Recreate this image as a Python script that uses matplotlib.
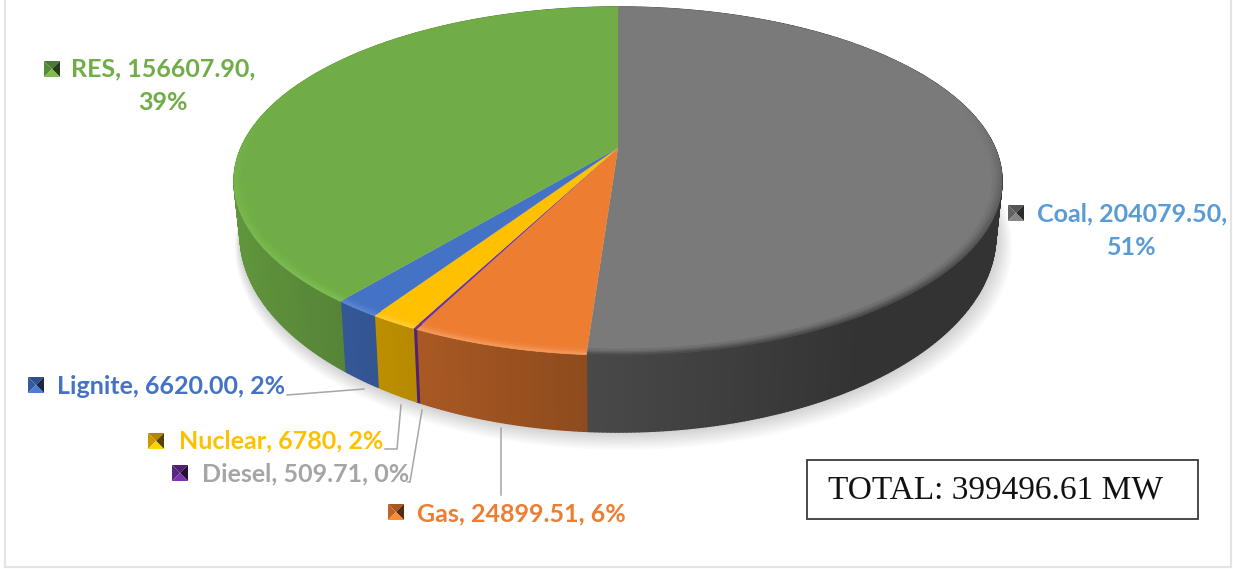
import numpy as np
import matplotlib
matplotlib.use("Agg")
import matplotlib.pyplot as plt
from matplotlib.collections import PolyCollection
from matplotlib.colors import to_rgb
from matplotlib.patches import Rectangle
from matplotlib.transforms import Transform

names = ["Coal", "Gas", "Diesel", "Nuclear", "Lignite", "RES"]
values = [204079.50, 24899.51, 509.71, 6780, 6620.00, 156607.90]
top_colors = ["#7a7a7a", "#ed7d31", "#7030a0", "#ffc000", "#4472c4", "#70ad47"]
rim_colors = ["#4a4a4a", "#f59a5c", "#7030a0", "#ffcc33", "#5a86d4", "#7dbd52"]
text_colors = ["#5b9bd5", "#ed7d31", "#a5a5a5", "#ffc000", "#4472c4", "#70ad47"]
label_lines = [
    ["Coal, 204079.50,", "51%"],
    ["Gas, 24899.51, 6%"],
    ["Diesel, 509.71, 0%"],
    ["Nuclear, 6780, 2%"],
    ["Lignite, 6620.00, 2%"],
    ["RES, 156607.90,", "39%"],
]
total_label = "TOTAL: 399496.61 MW"

#label layout in pixels: text anchor x, first line y, marker centre
label_pos = [(1132, 214), (417, 514), (202, 474), (179, 441), (57, 386), (163, 69)]
label_align = ["center", "left", "left", "left", "left", "center"]
marker_pos = [(1016, 213), (396, 512), (180, 473), (156, 441), (36, 385), (52, 69)]

#leader lines in pixels
leader_lines = [
    ([287, 364], [395, 389]),
    ([385, 397, 401], [449, 449, 405]),
    ([408, 410, 422], [482, 482, 410]),
    ([501, 501], [428, 495]),
]


class Tilt(Transform):
    #perspective view of the unit disc, output in pixels
    input_dims = 2
    output_dims = 2
    is_separable = False
    has_inverse = False

    def __init__(self, cx, e, a, b, c):
        super().__init__()
        self.cx, self.e, self.a, self.b, self.c = cx, e, a, b, c

    def transform_non_affine(self, xy):
        xy = np.asarray(xy, dtype=float)
        d = self.c * xy[:, 1] + 1
        return np.column_stack([self.cx + self.e * xy[:, 0] / d,
                                (self.a * xy[:, 1] + self.b) / d])


top_tilt = Tilt(618, 377, -139.7, 148, 0.19)
bottom_tilt = Tilt(618, 371, -152.4, 197.6, 0.19)


def shade(color, f):
    return tuple(min(1, v * f) for v in to_rgb(color))


def disc(t, r=1.0):
    return np.column_stack([r * np.cos(t), r * np.sin(t)])


fig = plt.figure(figsize=(12.33, 5.69), dpi=100)
ax = fig.add_axes([0, 0, 1, 1])

wedges, _ = ax.pie(values, colors=top_colors, startangle=90, counterclock=False)
ax.set_aspect("auto")
ax.set_xlim(0, 1233)
ax.set_ylim(569, 0)
ax.set_axis_off()

#page frame
ax.add_patch(Rectangle((5, -5), 1226, 572, fc="white", ec="#e4e4e4", lw=1.5, zorder=0))

#soft shadow under the wall
circle = np.radians(np.linspace(0, 360, 361))
for k in range(10):
    pts = bottom_tilt.transform(disc(circle, 1 + 0.003 * k))
    ax.fill(pts[:, 0] + k * 0.6, pts[:, 1] + k * 1.1, color="black", alpha=0.02, lw=0, zorder=1)

rim_steps = [1.0, 0.994, 0.988, 0.982, 0.976]
rim_weights = [1.0, 0.75, 0.45, 0.2]
wall_polys, wall_cols, rim_polys, rim_cols = [], [], [], []
for w, top, rim in zip(wedges, top_colors, rim_colors):
    n = max(2, int((w.theta2 - w.theta1) * 2))
    t = np.radians(np.linspace(w.theta1, w.theta2, n))
    upper = top_tilt.transform(disc(t))
    lower = bottom_tilt.transform(disc(t))
    for i in range(n - 1):
        wall_polys.append([upper[i], upper[i + 1], lower[i + 1], lower[i]])
        u = np.cos(t[i:i + 2].mean())
        wall_cols.append(shade(top, np.clip(0.58 - 0.3 * u, 0.42, 0.9)))
    #soft bevel, strongest at the front
    for b in range(len(rim_weights)):
        outer = top_tilt.transform(disc(t, rim_steps[b]))
        inner = top_tilt.transform(disc(t, rim_steps[b + 1]))
        for i in range(n - 1):
            k = np.clip(0.25 - np.sin(t[i:i + 2].mean()), 0, 1) * rim_weights[b]
            rim_polys.append([inner[i], inner[i + 1], outer[i + 1], outer[i]])
            rim_cols.append(tuple((1 - k) * np.array(to_rgb(top)) + k * np.array(to_rgb(rim))))
    w.set_transform(top_tilt + ax.transData)
    w.set_zorder(3)
    w.set_linewidth(0)

ax.add_collection(PolyCollection(wall_polys, facecolors=wall_cols, edgecolors=wall_cols, linewidths=1.0, zorder=2))
ax.add_collection(PolyCollection(rim_polys, facecolors=rim_cols, edgecolors=rim_cols, linewidths=0.5, zorder=4))

#leader lines
for xs, ys in leader_lines:
    ax.plot(xs, ys, color="#a6a6a6", lw=1.1, zorder=5)

#labels and their little pyramid markers
for lines, pos, ha, col, mpos, mcol in zip(label_lines, label_pos, label_align, text_colors, marker_pos, top_colors):
    for j, line in enumerate(lines):
        ax.text(pos[0], pos[1] + j * 33, line, color=col, ha=ha, va="center",
                family="Lato", weight="bold", fontsize=18, zorder=6)
    mx, my = mpos
    s = 8
    sides = [
        ([mx - s, mx + s, mx], [my - s, my - s, my], 0.7),
        ([mx - s, mx - s, mx], [my - s, my + s, my], 0.8),
        ([mx + s, mx + s, mx], [my - s, my + s, my], 0.35),
        ([mx - s, mx + s, mx], [my + s, my + s, my], 1.1),
    ]
    for xs, ys, f in sides:
        ax.fill(xs, ys, color=shade(mcol, f), lw=0, zorder=6)

ax.add_patch(Rectangle((807, 460), 391, 59, fc="white", ec="#3c3c3c", lw=1.3, zorder=6))
ax.text(828, 490, total_label, family="Liberation Serif", fontsize=24, color="#111111",
        ha="left", va="center", zorder=7)

fig.savefig("out.png", dpi=100)
